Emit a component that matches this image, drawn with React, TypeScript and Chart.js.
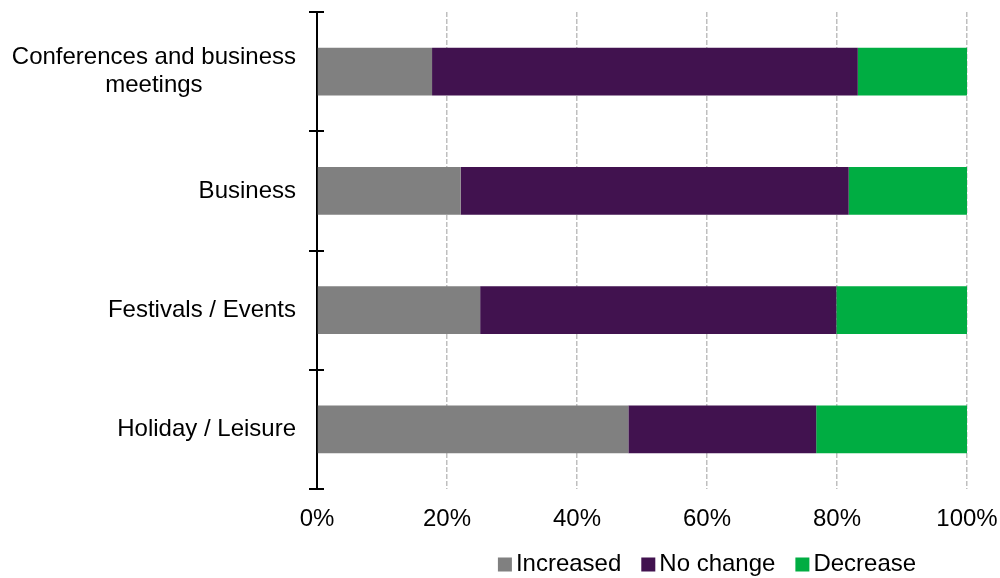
import React, { useEffect, useRef } from "react";
import { Chart, registerables } from "chart.js";

Chart.register(...registerables);

const categories: (string | string[])[] = [
  ["Conferences and business", "meetings"],
  "Business",
  "Festivals / Events",
  "Holiday / Leisure",
];
const increased = [17.7, 22.1, 25.1, 47.9];
const noChange = [65.5, 59.7, 54.8, 28.9];
const decrease = [16.8, 18.2, 20.1, 23.2];
const seriesNames = ["Increased", "No change", "Decrease"];
const seriesColors = ["#808080", "#41124F", "#00AD42"];
const xTickValues = [0, 20, 40, 60, 80, 100];

const FONT_FAMILY = '"Liberation Sans", Arial, sans-serif';
const FONT_SIZE = 24;

const overlayPlugin = {
  id: "overlay",
  afterDraw(chart: any) {
    const ctx = chart.ctx as CanvasRenderingContext2D;
    const ys = chart.scales.y;
    ctx.save();
    ctx.font = `${FONT_SIZE}px ${FONT_FAMILY}`;
    ctx.fillStyle = "#000";
    ctx.textBaseline = "middle";
    ctx.textAlign = "center";
    // category labels (multi-line centred, block right-aligned)
    (chart.data.labels as any[]).forEach((lab, i) => {
      const lines: string[] = Array.isArray(lab) ? lab : [lab];
      const maxW = Math.max(...lines.map((l) => ctx.measureText(l).width));
      const cx = ys.right - 21 - maxW / 2;
      const cy = ys.getPixelForValue(i);
      const lh = 28;
      lines.forEach((l, j) => {
        ctx.fillText(l, cx, cy + (j - (lines.length - 1) / 2) * lh);
      });
    });
    // crossing tick marks on the category axis
    const n = chart.data.labels.length;
    ctx.strokeStyle = "#000";
    ctx.lineWidth = 2;
    for (let i = 0; i <= n; i++) {
      const y = Math.round(ys.top + (i * (ys.bottom - ys.top)) / n);
      ctx.beginPath();
      ctx.moveTo(ys.right - 8, y);
      ctx.lineTo(ys.right + 7, y);
      ctx.stroke();
    }
    // legend
    const box = 14;
    const gapText = 4;
    const gapItem = 20;
    const items = chart.data.datasets.map((d: any) => ({
      text: d.label as string,
      color: d.backgroundColor as string,
      w: ctx.measureText(d.label).width,
    }));
    const total =
      items.reduce((s: number, it: any) => s + box + gapText + it.w, 0) +
      gapItem * (items.length - 1);
    const legendCenterX = 707;
    const legendY = 564.5;
    let x = legendCenterX - total / 2;
    ctx.textAlign = "left";
    items.forEach((it: any) => {
      ctx.fillStyle = it.color;
      ctx.fillRect(x, legendY - box / 2, box, box);
      ctx.fillStyle = "#000";
      ctx.fillText(it.text, x + box + gapText, legendY);
      x += box + gapText + it.w + gapItem;
    });
    ctx.restore();
  },
};

export default function App() {
  const canvasRef = useRef<HTMLCanvasElement | null>(null);

  useEffect(() => {
    if (!canvasRef.current) return;
    const data = [increased, noChange, decrease];
    const chart = new Chart(canvasRef.current, {
      type: "bar",
      data: {
        labels: categories as any,
        datasets: seriesNames.map((name, k) => ({
          label: name,
          data: data[k],
          backgroundColor: seriesColors[k],
          borderWidth: 0,
          categoryPercentage: 0.8,
          barPercentage: 0.5,
        })),
      },
      options: {
        indexAxis: "y",
        responsive: false,
        animation: false,
        layout: { padding: { top: 12, right: 33, left: 0, bottom: 0 } },
        plugins: {
          legend: { display: false },
          tooltip: { enabled: false },
        },
        scales: {
          x: {
            stacked: true,
            min: 0,
            max: 100,
            afterFit: (scale: any) => {
              scale.height = 89;
              scale.paddingLeft = 0;
              scale.paddingRight = 0;
            },
            afterBuildTicks: (scale: any) => {
              scale.ticks = xTickValues.map((v) => ({ value: v }));
            },
            grid: {
              color: "#bfbfbf",
              lineWidth: 1.5,
              drawTicks: false,
            },
            border: { display: false, dash: [5, 2] },
            ticks: {
              padding: 16,
              color: "#000",
              font: { family: FONT_FAMILY, size: FONT_SIZE },
              callback: (v: any) => `${v}%`,
            },
          },
          y: {
            stacked: true,
            afterFit: (scale: any) => {
              scale.width = 317;
              scale.paddingTop = 0;
              scale.paddingBottom = 0;
            },
            grid: { display: false },
            border: { display: true, color: "#000", width: 2 },
            ticks: { display: false },
          },
        },
      },
      plugins: [overlayPlugin],
    });
    return () => chart.destroy();
  }, []);

  return (
    <div style={{ position: "fixed", left: 0, top: 0, width: 1000, height: 578, background: "#fff" }}>
      <canvas ref={canvasRef} width={1000} height={578} />
    </div>
  );
}
